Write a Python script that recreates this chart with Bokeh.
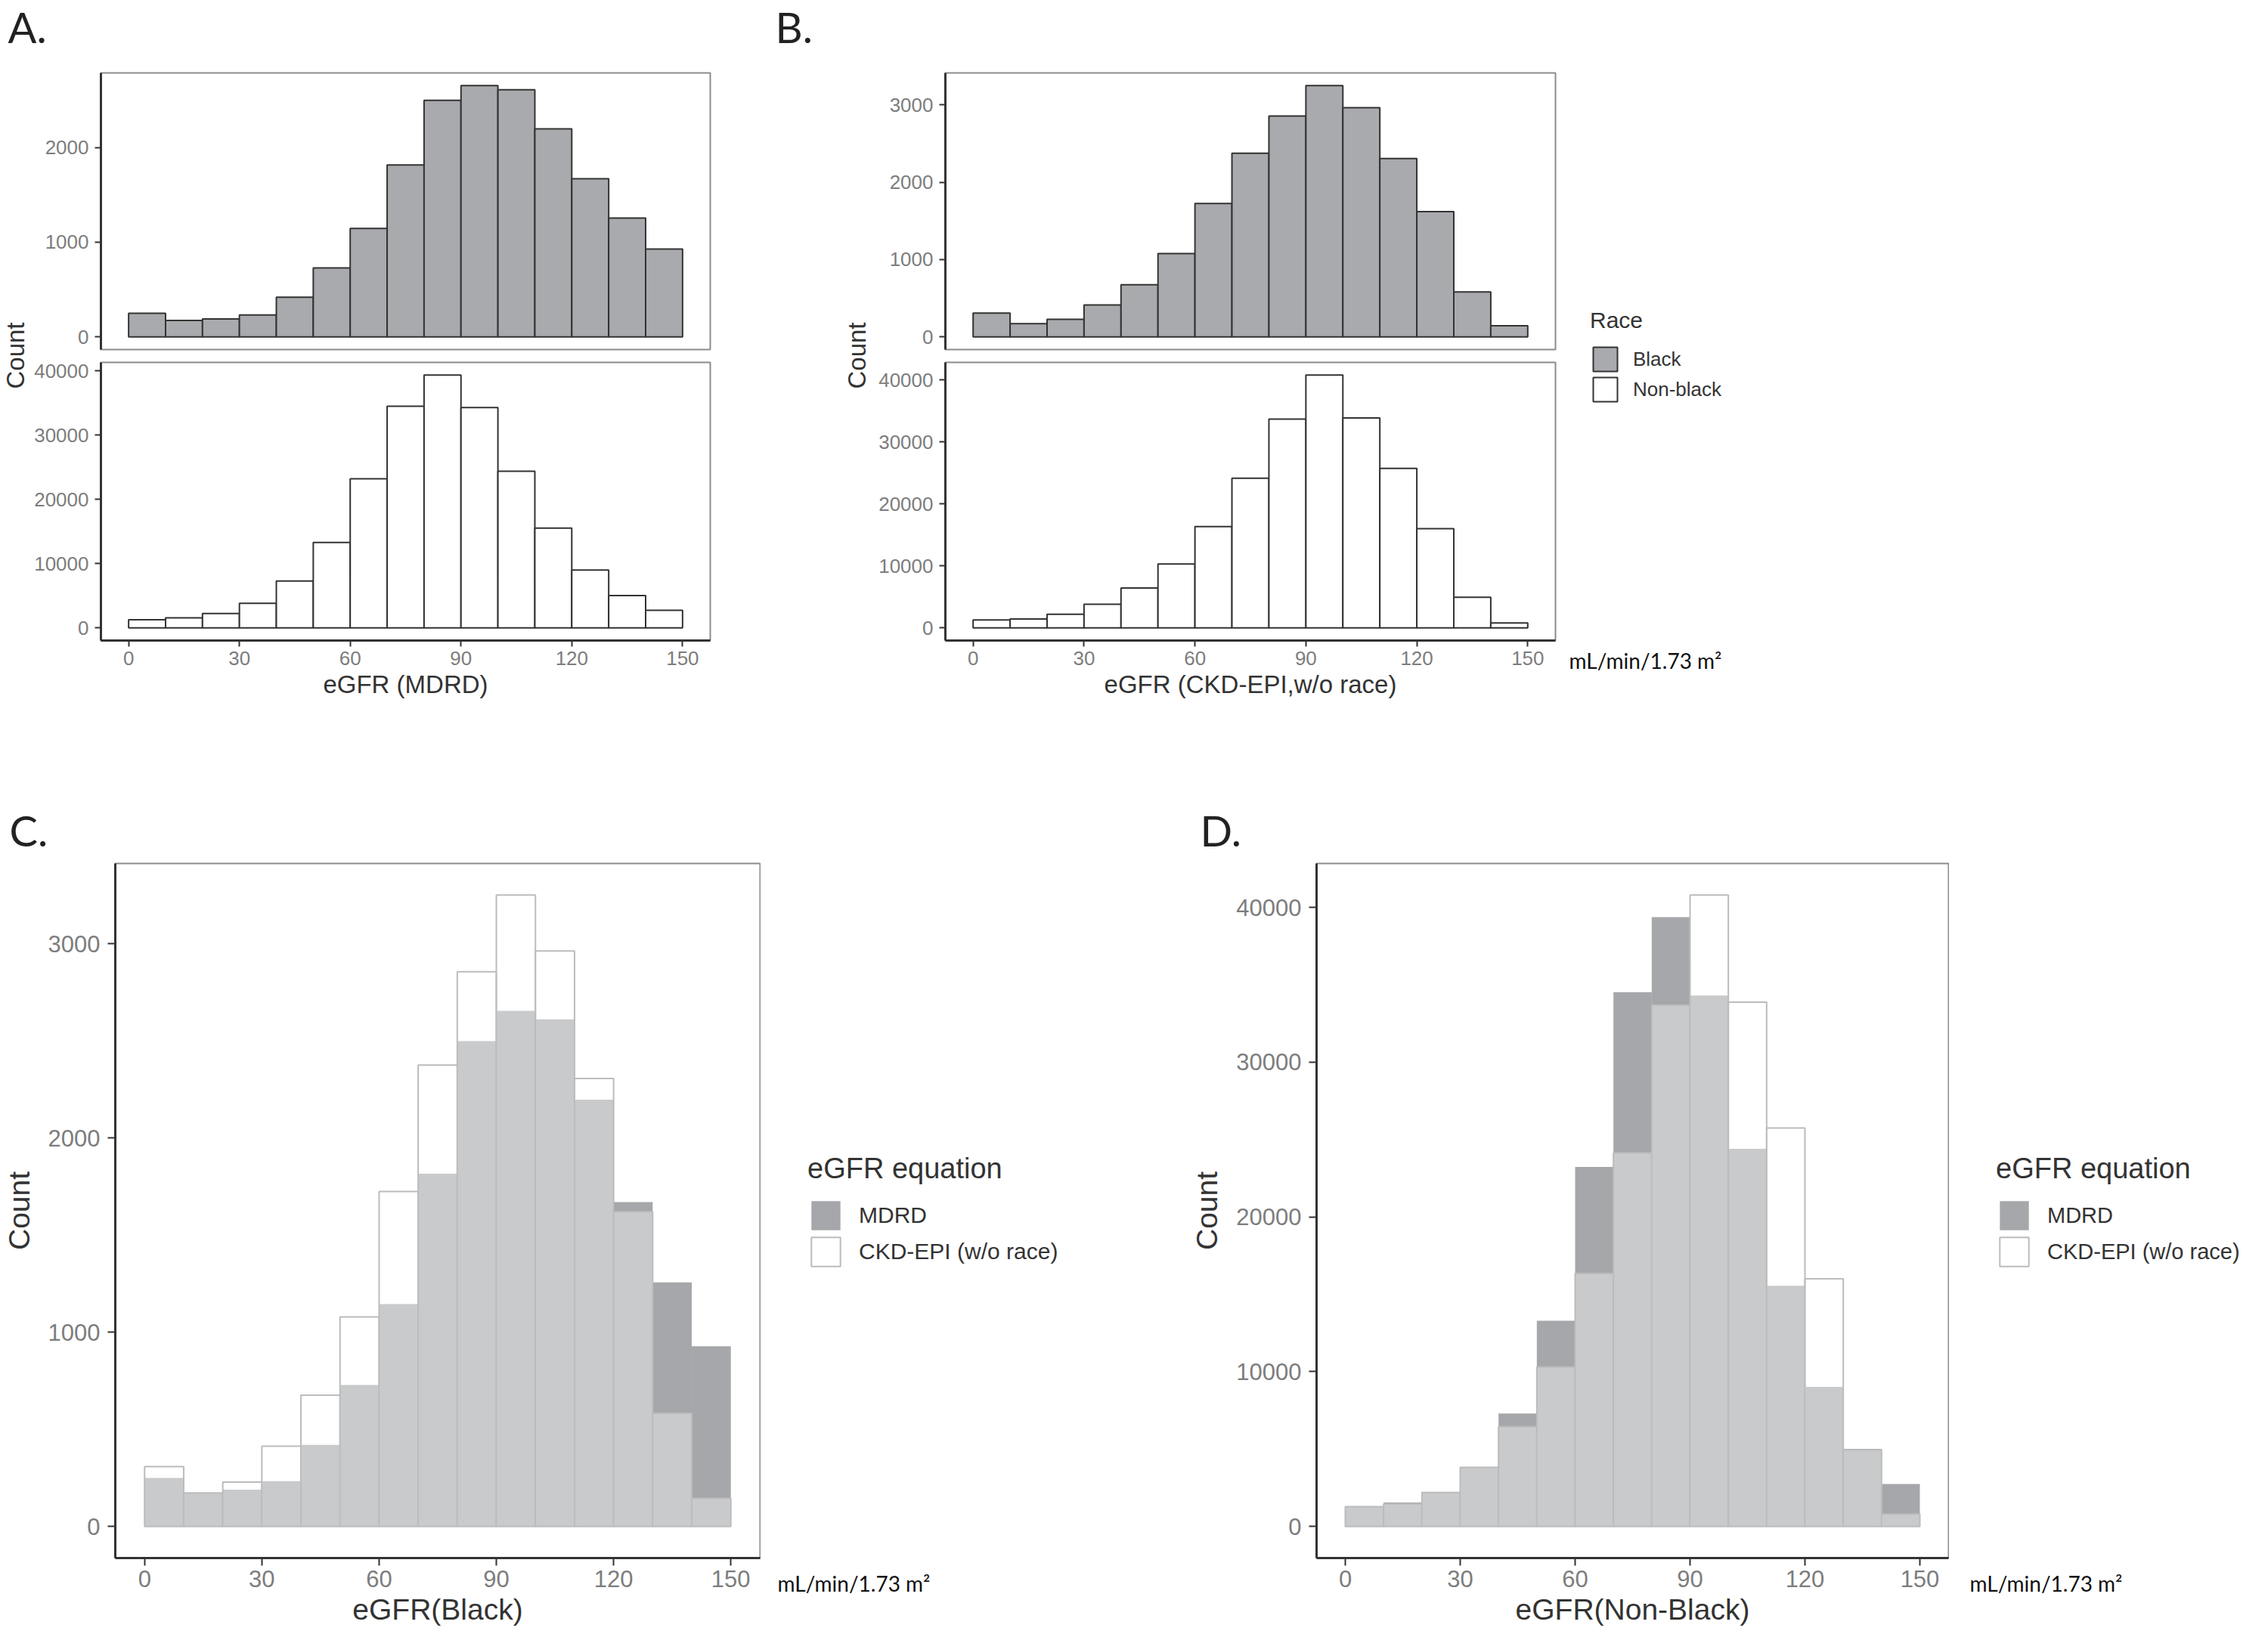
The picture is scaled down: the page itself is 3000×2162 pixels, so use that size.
import numpy as np
from bokeh.plotting import figure
from bokeh.models import Range1d, FixedTicker, Legend, LegendItem
from bokeh.layouts import row, column
from bokeh.embed import file_html
from bokeh.resources import INLINE
from bokeh.core.properties import value

# ---------------- data (counts per 10-unit eGFR bin) ----------------
bin_left = [0, 10, 20, 30, 40, 50, 60, 70, 80, 90, 100, 110, 120, 130, 140]
bin_right = [10, 20, 30, 40, 50, 60, 70, 80, 90, 100, 110, 120, 130, 140, 150]
x_ticks = [0, 30, 60, 90, 120, 150]

black_mdrd = [250, 175, 190, 233, 420, 728, 1145, 1816, 2498, 2654, 2610, 2197, 1670, 1256, 928]
black_ckd = [308, 172, 228, 413, 676, 1078, 1724, 2375, 2855, 3250, 2962, 2306, 1620, 582, 145]
nonblack_mdrd = [1280, 1550, 2230, 3830, 7300, 13300, 23230, 34520, 39370, 34300, 24400, 15550, 9020, 5020, 2750]
nonblack_ckd = [1280, 1450, 2200, 3820, 6450, 10300, 16350, 24140, 33680, 40800, 33880, 25750, 16010, 4950, 810]

ticks_black_small = [0, 1000, 2000]
ticks_black = [0, 1000, 2000, 3000]
ticks_nonblack = [0, 10000, 20000, 30000, 40000]

unit_text = "mL/min/1.73 m\u00b2"

FONT = "Liberation Sans"
LFONT = "Lato"
DARK = "#333333"
TICKC = "#7d7d7d"
BORDER = "#8c8c8c"
BLACK_FILL = "#a9aaad"
MDRD_FILL = "#a6a7aa"
CKD_LINE = "#bcbcbc"


def xr():
    span = bin_right[-1] - bin_left[0]
    return Range1d(bin_left[0] - 0.05 * span, bin_right[-1] + 0.05 * span)


def yr(*series):
    m = max(max(s) for s in series)
    return Range1d(-0.05 * m, 1.05 * m)


def panel(width, height, borders, y_range, yticks, xlabel=None, show_x=True,
          tick_px="26px", title_px="33px", tick_out=8, xl_stand=6, xa_stand=4,
          yl_stand=8, ylabel=None, ya_stand=10):
    left, right, top, bottom = borders
    p = figure(width=width, height=height, x_range=xr(), y_range=y_range,
               min_border_left=left, min_border_right=right,
               min_border_top=top, min_border_bottom=bottom,
               x_axis_location="below" if show_x else None,
               frame_align=False,
               output_backend="svg", toolbar_location=None, tools="")
    p.grid.visible = False
    p.outline_line_color = BORDER
    p.outline_line_width = 2
    p.background_fill_color = "white"
    p.border_fill_color = "white"
    for ax in p.axis:
        ax.axis_line_color = DARK
        ax.axis_line_width = 3
        ax.major_tick_line_color = DARK
        ax.major_tick_line_width = 2
        ax.major_tick_in = 0
        ax.major_tick_out = tick_out
        ax.minor_tick_line_color = None
        ax.major_label_text_font = FONT
        ax.major_label_text_font_size = tick_px
        ax.major_label_text_color = TICKC
        ax.axis_label_text_font = FONT
        ax.axis_label_text_font_size = title_px
        ax.axis_label_text_font_style = "normal"
        ax.axis_label_text_color = DARK
    p.yaxis.ticker = FixedTicker(ticks=yticks)
    p.yaxis.major_label_standoff = yl_stand
    if ylabel:
        p.yaxis.axis_label = ylabel
        p.yaxis.axis_label_standoff = ya_stand
    if show_x:
        p.xaxis.ticker = FixedTicker(ticks=x_ticks)
        p.xaxis.major_label_standoff = xl_stand
        p.xaxis.axis_label = xlabel
        p.xaxis.axis_label_standoff = xa_stand
    return p


def canvas(W, H):
    p = figure(width=W, height=H, x_range=Range1d(0, W), y_range=Range1d(H, 0),
               x_axis_location=None, y_axis_location=None, min_border=0,
               frame_align=False,
               output_backend="svg", toolbar_location=None, tools="")
    p.outline_line_color = None
    p.grid.visible = False
    p.background_fill_color = "white"
    p.border_fill_color = "white"
    return p


def race_bars(p, counts, fill):
    p.quad(left=bin_left, right=bin_right, bottom=0, top=counts,
           fill_color=fill, line_color=DARK, line_width=2)


def overlay_bars(p, mdrd, ckd):
    r1 = p.quad(left=bin_left, right=bin_right, bottom=0, top=mdrd,
                fill_color=MDRD_FILL, line_color=None)
    r2 = p.quad(left=bin_left, right=bin_right, bottom=0, top=ckd,
                fill_color="white", fill_alpha=0.4, line_color=CKD_LINE, line_width=2)
    return r1, r2


def key_renderer(p, **kw):
    # a legend-key carrier placed outside the visible canvas
    return p.quad(left=[-60], right=[-50], top=[-60], bottom=[-50], **kw)


def letters(p, xs, ys, labels):
    p.text(x=xs, y=ys, text=labels, text_font=value(LFONT), text_font_size="56px",
           text_color="#222222", text_baseline="middle", text_align="left")


# ---------------- top row: A and B ----------------
band_top = canvas(2992, 80)
letters(band_top, [10, 1025], [35, 35], ["A.", "B."])

count_a = canvas(40, 980)
count_a.text(x=[20], y=[390], text=["Count"], angle=np.pi / 2, text_font=value(FONT),
             text_font_size="33px", text_color=DARK, text_align="center", text_baseline="middle")
count_b = canvas(40, 980)
count_b.text(x=[21], y=[390], text=["Count"], angle=np.pi / 2, text_font=value(FONT),
             text_font_size="33px", text_color=DARK, text_align="center", text_baseline="middle")

a_top = panel(1072, 390, (93, 173, 16, 8), yr(black_mdrd), ticks_black_small, show_x=False)
race_bars(a_top, black_mdrd, BLACK_FILL)
a_bot = panel(1072, 590, (93, 173, 9, 213), yr(nonblack_mdrd), ticks_nonblack, xlabel="eGFR (MDRD)")
race_bars(a_bot, nonblack_mdrd, "white")

b_top = panel(908, 390, (98, 3, 16, 8), yr(black_ckd), ticks_black, show_x=False)
race_bars(b_top, black_ckd, BLACK_FILL)
b_bot = panel(908, 590, (98, 3, 9, 213), yr(nonblack_ckd), ticks_nonblack, xlabel="eGFR (CKD-EPI,w/o race)")
race_bars(b_bot, nonblack_ckd, "white")

side_top = canvas(932, 980)
rb = key_renderer(side_top, fill_color=BLACK_FILL, line_color=DARK, line_width=2)
rn = key_renderer(side_top, fill_color="white", line_color=DARK, line_width=2)
leg_race = Legend(items=[LegendItem(label="Black", renderers=[rb]),
                         LegendItem(label="Non-black", renderers=[rn])],
                  location=(43, 525), title="Race",
                  title_text_font=FONT, title_text_font_size="30px", title_text_font_style="normal",
                  title_text_color=DARK, title_standoff=14,
                  label_text_font=FONT, label_text_font_size="26px", label_text_color=DARK,
                  glyph_width=40, glyph_height=40, label_height=40, label_standoff=17,
                  spacing=0, padding=0, margin=0, border_line_color=None, background_fill_alpha=0)
side_top.add_layout(leg_race)
side_top.text(x=[15], y=[793], text=[unit_text], text_font=value(LFONT), text_font_size="28px",
              text_color="#111111", text_baseline="middle")

top_row = row(count_a, column(a_top, a_bot), count_b, column(b_top, b_bot), side_top)

# ---------------- bottom row: C and D ----------------
band_bot = canvas(2992, 72)
letters(band_bot, [12, 1587], [38, 38], ["C.", "D."])

cd_kw = dict(tick_px="31px", title_px="39px", tick_out=10, xl_stand=6, xa_stand=5,
             yl_stand=10, ylabel="Count", ya_stand=14)

ROW_H = 1030
p_c = panel(1006, ROW_H, (148, 1, 10, 101), yr(black_mdrd, black_ckd), ticks_black,
            xlabel="eGFR(Black)", **cd_kw)
overlay_bars(p_c, black_mdrd, black_ckd)

p_d = panel(1006, ROW_H, (166, 1, 10, 101), yr(nonblack_mdrd, nonblack_ckd), ticks_nonblack,
            xlabel="eGFR(Non-Black)", **cd_kw)
overlay_bars(p_d, nonblack_mdrd, nonblack_ckd)


def eq_side(W, lx, label_px):
    s = canvas(W, ROW_H)
    m = key_renderer(s, fill_color=MDRD_FILL, line_color=None)
    c = key_renderer(s, fill_color="white", line_color=CKD_LINE, line_width=2)
    leg = Legend(items=[LegendItem(label="MDRD", renderers=[m]),
                        LegendItem(label="CKD-EPI (w/o race)", renderers=[c])],
                 location=(lx, 482), title="eGFR equation",
                 title_text_font=FONT, title_text_font_size="38px", title_text_font_style="normal",
                 title_text_color=DARK, title_standoff=16,
                 label_text_font=FONT, label_text_font_size=label_px, label_text_color=DARK,
                 glyph_width=48, glyph_height=48, label_height=48, label_standoff=20,
                 spacing=0, padding=0, margin=0, border_line_color=None, background_fill_alpha=0)
    s.add_layout(leg)
    return s


side_c = eq_side(566, 62, "30px")
side_c.text(x=[22], y=[962], text=[unit_text], text_font=value(LFONT), text_font_size="28px",
            text_color="#111111", text_baseline="middle")
side_d = eq_side(414, 62, "29px")
side_d.text(x=[27], y=[962], text=[unit_text], text_font=value(LFONT), text_font_size="28px",
            text_color="#111111", text_baseline="middle")

bottom_row = row(p_c, side_c, p_d, side_d)

layout = column(band_top, top_row, band_bot, bottom_row)

open("out.html", "w").write(file_html(layout, INLINE))
